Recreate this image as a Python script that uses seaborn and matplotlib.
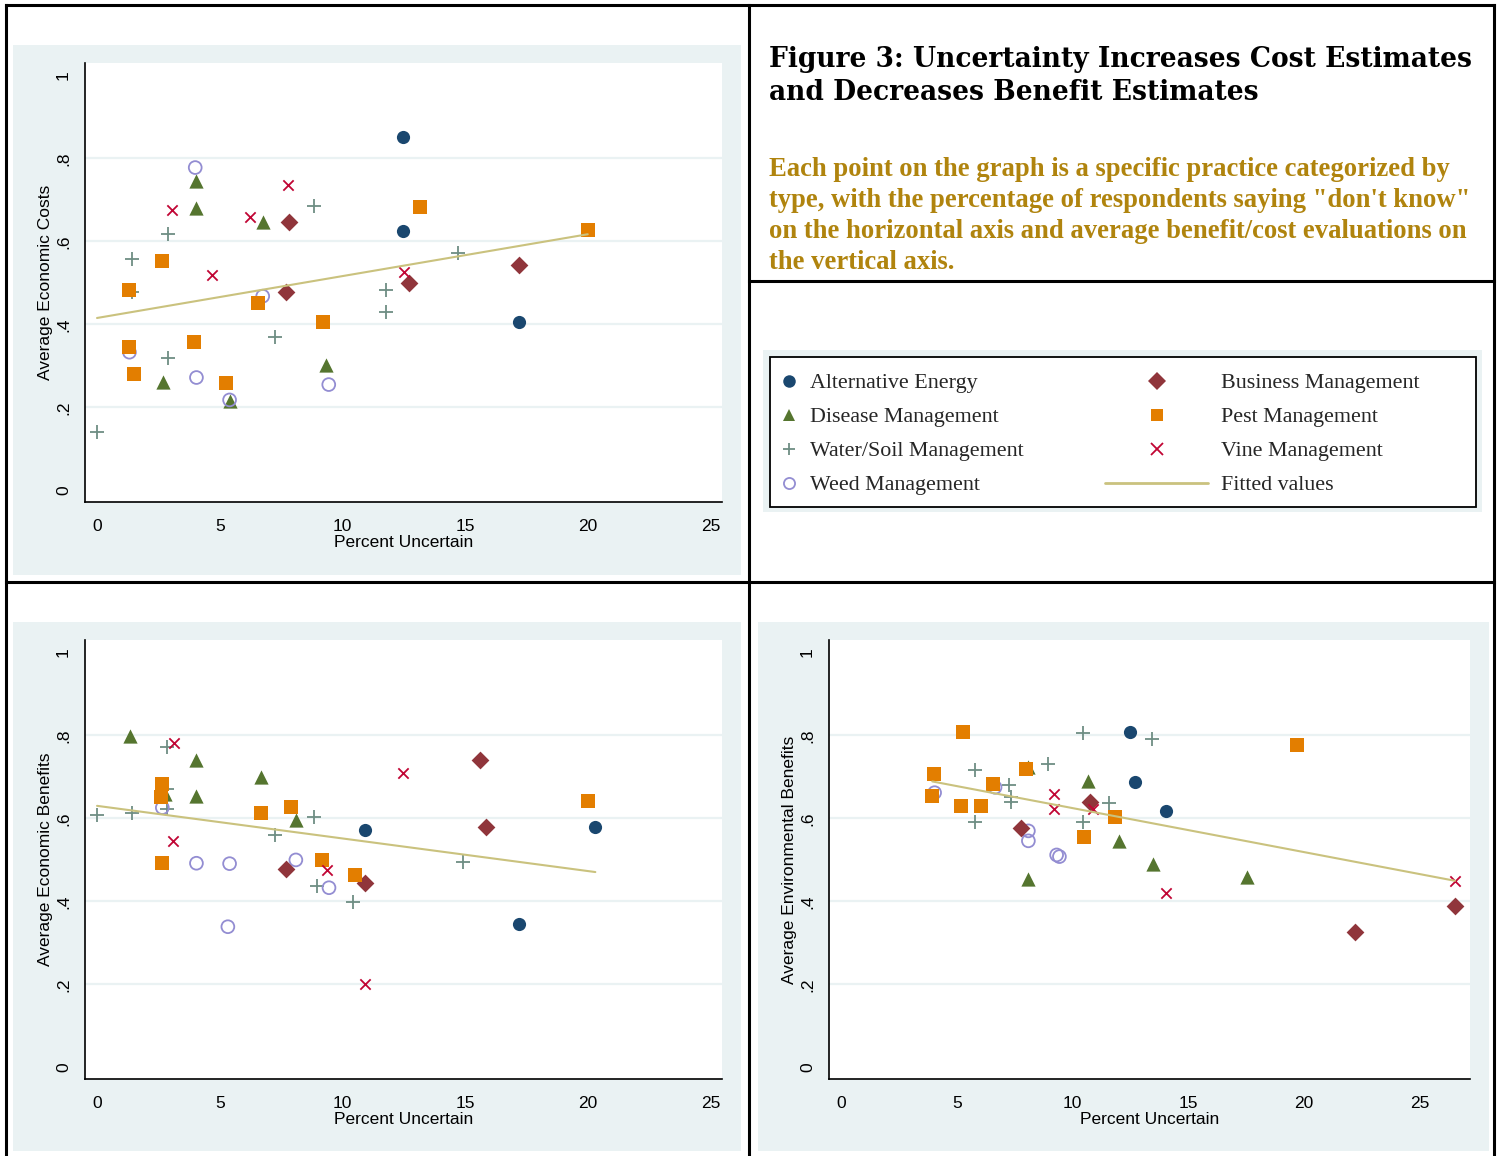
import pandas as pd
import seaborn as sns
import matplotlib.pyplot as plt
from matplotlib.lines import Line2D
from matplotlib.patches import Rectangle

# Practice types (codes used in the lists below)
types = ["AE", "DM", "WS", "WM", "BM", "PM", "VM"]
type_names = ["Alternative Energy", "Disease Management", "Water/Soil Management",
              "Weed Management", "Business Management", "Pest Management", "Vine Management"]

# Panel 1: average economic costs vs percent uncertain
cost_type = ["AE"] * 3 + ["DM"] * 6 + ["WS"] * 10 + ["WM"] * 6 + ["BM"] * 4 + ["PM"] * 10 + ["VM"] * 5
cost_x = [12.48, 12.48, 17.18,
          4.05, 4.05, 6.75, 2.67, 5.40, 9.33,
          0.0, 1.44, 1.44, 2.89, 2.89, 7.25, 8.83, 11.76, 11.76, 14.70,
          4.00, 6.75, 1.32, 4.05, 5.40, 9.44,
          7.81, 7.70, 12.70, 17.18,
          2.63, 1.32, 1.30, 1.52, 3.94, 5.25, 6.57, 9.21, 13.16, 19.99,
          3.07, 7.79, 6.25, 4.68, 12.49]
cost_y = [0.852, 0.625, 0.405,
          0.745, 0.680, 0.647, 0.260, 0.215, 0.302,
          0.140, 0.557, 0.478, 0.619, 0.320, 0.369, 0.685, 0.484, 0.430, 0.571,
          0.778, 0.468, 0.333, 0.272, 0.218, 0.255,
          0.647, 0.477, 0.500, 0.544,
          0.552, 0.484, 0.345, 0.280, 0.358, 0.259, 0.451, 0.406, 0.684, 0.627,
          0.675, 0.737, 0.660, 0.519, 0.527]

# Panel 2: average economic benefits
econ_type = ["AE"] * 3 + ["DM"] * 6 + ["WS"] * 10 + ["WM"] * 6 + ["BM"] * 4 + ["PM"] * 8 + ["VM"] * 5
econ_x = [10.93, 17.18, 20.30,
          1.34, 4.05, 4.05, 6.67, 8.10, 2.78,
          0.0, 1.44, 2.86, 2.86, 2.86, 7.25, 8.83, 8.95, 10.44, 14.91,
          2.66, 4.05, 5.40, 5.33, 8.10, 9.45,
          7.69, 10.93, 15.61, 15.86,
          2.63, 2.61, 2.66, 6.67, 7.89, 9.15, 10.52, 19.99,
          3.12, 3.08, 9.36, 12.48, 10.93]
econ_y = [0.572, 0.346, 0.579,
          0.798, 0.742, 0.655, 0.700, 0.596, 0.660,
          0.608, 0.614, 0.772, 0.670, 0.622, 0.560, 0.604, 0.438, 0.399, 0.496,
          0.626, 0.492, 0.491, 0.339, 0.500, 0.433,
          0.478, 0.444, 0.740, 0.579,
          0.684, 0.652, 0.492, 0.614, 0.628, 0.500, 0.463, 0.641,
          0.782, 0.546, 0.476, 0.710, 0.202]

# Panel 3: average environmental benefits
env_type = ["AE"] * 3 + ["DM"] * 6 + ["WS"] * 10 + ["WM"] * 6 + ["BM"] * 4 + ["PM"] * 10 + ["VM"] * 5
env_x = [12.48, 12.68, 14.03,
         8.09, 8.09, 10.65, 11.99, 13.49, 17.54,
         5.79, 5.79, 7.24, 7.34, 7.34, 8.95, 10.43, 10.43, 11.59, 13.42,
         4.04, 6.65, 8.09, 8.09, 9.31, 9.43,
         7.79, 10.75, 22.18, 26.51,
         5.25, 4.00, 3.94, 5.18, 6.06, 6.56, 7.99, 10.51, 11.82, 19.70,
         9.21, 9.21, 10.89, 14.03, 26.50]
env_y = [0.808, 0.687, 0.619,
         0.724, 0.455, 0.690, 0.546, 0.490, 0.460,
         0.717, 0.591, 0.680, 0.652, 0.639, 0.732, 0.807, 0.591, 0.636, 0.792,
         0.662, 0.675, 0.570, 0.546, 0.512, 0.508,
         0.576, 0.640, 0.327, 0.390,
         0.808, 0.707, 0.655, 0.630, 0.631, 0.684, 0.719, 0.556, 0.604, 0.777,
         0.660, 0.623, 0.623, 0.421, 0.450]

y_ticks = [0, 0.2, 0.4, 0.6, 0.8, 1]
y_ticklabels = ["0", ".2", ".4", ".6", ".8", "1"]
x_ticks = [0, 5, 10, 15, 20, 25]

# Stata s2color look
colors = {"AE": "#1a476f", "BM": "#90353b", "DM": "#55752f", "PM": "#e37e00",
          "WS": "#6e8e84", "VM": "#c10534", "WM": "#938dd2"}
markers = {"AE": "o", "DM": "^", "WS": "+", "WM": "o", "BM": "D", "PM": "s", "VM": "x"}
sizes = {"AE": 90, "DM": 105, "WS": 105, "WM": 85, "BM": 82, "PM": 95, "VM": 55}
khaki = "#cac27e"
panel_bg = "#eaf2f3"
gold = "#b0840e"

sns.set_theme(style="white")
plt.rcParams["font.family"] = ["Liberation Sans", "DejaVu Sans"]

W, H = 1499, 1156
fig = plt.figure(figsize=(W / 100, H / 100), dpi=100)
fig.patch.set_facecolor("white")


def fx(px):
    return px / W


def fy(py):
    return 1 - py / H


def frect(x0, y0, x1, y1, **kw):
    r = Rectangle((fx(x0), fy(y1)), fx(x1) - fx(x0), fy(y0) - fy(y1),
                  transform=fig.transFigure, **kw)
    fig.add_artist(r)
    return r


def fline(x0, y0, x1, y1):
    fig.add_artist(Line2D([fx(x0), fx(x1)], [fy(y0), fy(y1)], transform=fig.transFigure,
                          color="black", lw=2.2, zorder=10, solid_capstyle="projecting"))


def draw_panel(box, types_, xs, ys, ylabel, xlim):
    df = pd.DataFrame({"type": types_, "x": xs, "y": ys})
    x0, y0, x1, y1 = box
    ax = fig.add_axes([fx(x0), fy(y1), fx(x1) - fx(x0), fy(y0) - fy(y1)])
    ax.set_facecolor("white")
    for g in [0.2, 0.4, 0.6, 0.8]:
        ax.axhline(g, color=panel_bg, lw=1.6, zorder=0)
    for code in types:
        sub = df[df["type"] == code]
        c = colors[code]
        if code == "WM":
            sns.scatterplot(data=sub, x="x", y="y", ax=ax, marker="o", s=sizes[code],
                            facecolor="none", edgecolor=c, linewidth=1.3, zorder=3)
        elif markers[code] in ("+", "x"):
            sns.scatterplot(data=sub, x="x", y="y", ax=ax, marker=markers[code], s=sizes[code],
                            color=c, linewidth=1.3, zorder=3)
        else:
            sns.scatterplot(data=sub, x="x", y="y", ax=ax, marker=markers[code], s=sizes[code],
                            color=c, linewidth=0, zorder=3)
    sns.regplot(data=df, x="x", y="y", ax=ax, scatter=False, ci=None,
                line_kws=dict(color=khaki, lw=1.5, zorder=4))
    ax.set_xlim(*xlim)
    ax.set_ylim(-0.028, 1.03)
    ax.set_xticks(x_ticks)
    ax.set_yticks(y_ticks)
    ax.set_yticklabels(y_ticklabels, rotation=90, va="center")
    ax.tick_params(axis="both", direction="out", length=8, width=1.1, color="black",
                   labelsize=12.5, labelcolor="black")
    ax.tick_params(axis="y", pad=2)
    ax.tick_params(axis="x", pad=4)
    for side in ["top", "right"]:
        ax.spines[side].set_visible(False)
    for side in ["left", "bottom"]:
        ax.spines[side].set_color("black")
        ax.spines[side].set_linewidth(1.2)
    ax.set_xlabel("Percent Uncertain", fontsize=12.5, labelpad=1, color="black")
    ax.set_ylabel(ylabel, fontsize=12.5, labelpad=2, color="black")
    return ax


# grey-blue panel backgrounds
frect(13, 45, 741, 575, facecolor=panel_bg, edgecolor="none", zorder=-1)
frect(13, 622, 741, 1151, facecolor=panel_bg, edgecolor="none", zorder=-1)
frect(758, 622, 1489, 1151, facecolor=panel_bg, edgecolor="none", zorder=-1)

draw_panel((85, 63, 722, 502), cost_type, cost_x, cost_y, "Average Economic Costs", (-0.49, 25.46))
draw_panel((85, 640, 722, 1079), econ_type, econ_x, econ_y, "Average Economic Benefits", (-0.49, 25.46))
draw_panel((829, 640, 1470, 1079), env_type, env_x, env_y, "Average Environmental Benefits", (-0.52, 27.16))

# outer frame and dividers
fline(6, 5, 1494, 5)
fline(6, 5, 6, 1156)
fline(1494, 5, 1494, 1156)
fline(749, 5, 749, 1156)
fline(6, 582, 1494, 582)
fline(749, 281, 1494, 281)

# title and note
title_lines = ["Figure 3: Uncertainty Increases Cost Estimates",
               "and Decreases Benefit Estimates"]
note_lines = ["Each point on the graph is a specific practice categorized by",
              "type, with the percentage of respondents saying \"don't know\"",
              "on the horizontal axis and average benefit/cost evaluations on",
              "the vertical axis."]
for i, t in enumerate(title_lines):
    fig.text(fx(769), fy(67 + 33 * i), t, fontsize=19.1, fontweight="bold",
             family=["DejaVu Serif"], color="black", va="baseline")
for i, t in enumerate(note_lines):
    fig.text(fx(769), fy(176 + 31 * i), t, fontsize=19.2, fontweight="bold",
             family=["Liberation Serif", "DejaVu Serif"], color=gold, va="baseline")

# legend box
frect(763, 350, 1482, 512, facecolor=panel_bg, edgecolor="none", zorder=-1)
frect(770, 357, 1476, 507, facecolor="white", edgecolor="black", lw=1.3, zorder=-0.5)


def handle(code):
    if code == "WM":
        return Line2D([], [], ls="none", marker="o", markersize=8, markerfacecolor="none",
                      markeredgecolor=colors[code], markeredgewidth=1.3)
    if markers[code] in ("+", "x"):
        return Line2D([], [], ls="none", marker=markers[code], markersize=9,
                      color=colors[code], markeredgewidth=1.3)
    return Line2D([], [], ls="none", marker=markers[code], markersize=9,
                  color=colors[code], markeredgewidth=0)


names = dict(zip(types, type_names))
leg_font = {"family": ["Liberation Serif", "DejaVu Serif"], "size": 15.8}
left_codes = ["AE", "DM", "WS", "WM"]
right_codes = ["BM", "PM", "VM"]
leg1 = fig.legend([handle(c) for c in left_codes], [names[c] for c in left_codes],
                  loc="upper left", bbox_to_anchor=(fx(779), fy(373)), frameon=False,
                  prop=leg_font, handlelength=0.95, handletextpad=0.45, labelspacing=0.62,
                  borderpad=0, borderaxespad=0)
leg2 = fig.legend([handle(c) for c in right_codes] + [Line2D([], [], color=khaki, lw=2)],
                  [names[c] for c in right_codes] + ["Fitted values"],
                  loc="upper left", bbox_to_anchor=(fx(1105), fy(373)), frameon=False,
                  prop=leg_font, handlelength=4.7, handletextpad=0.6, labelspacing=0.62,
                  borderpad=0, borderaxespad=0)

fig.savefig("out.png", dpi=100, facecolor="white")
